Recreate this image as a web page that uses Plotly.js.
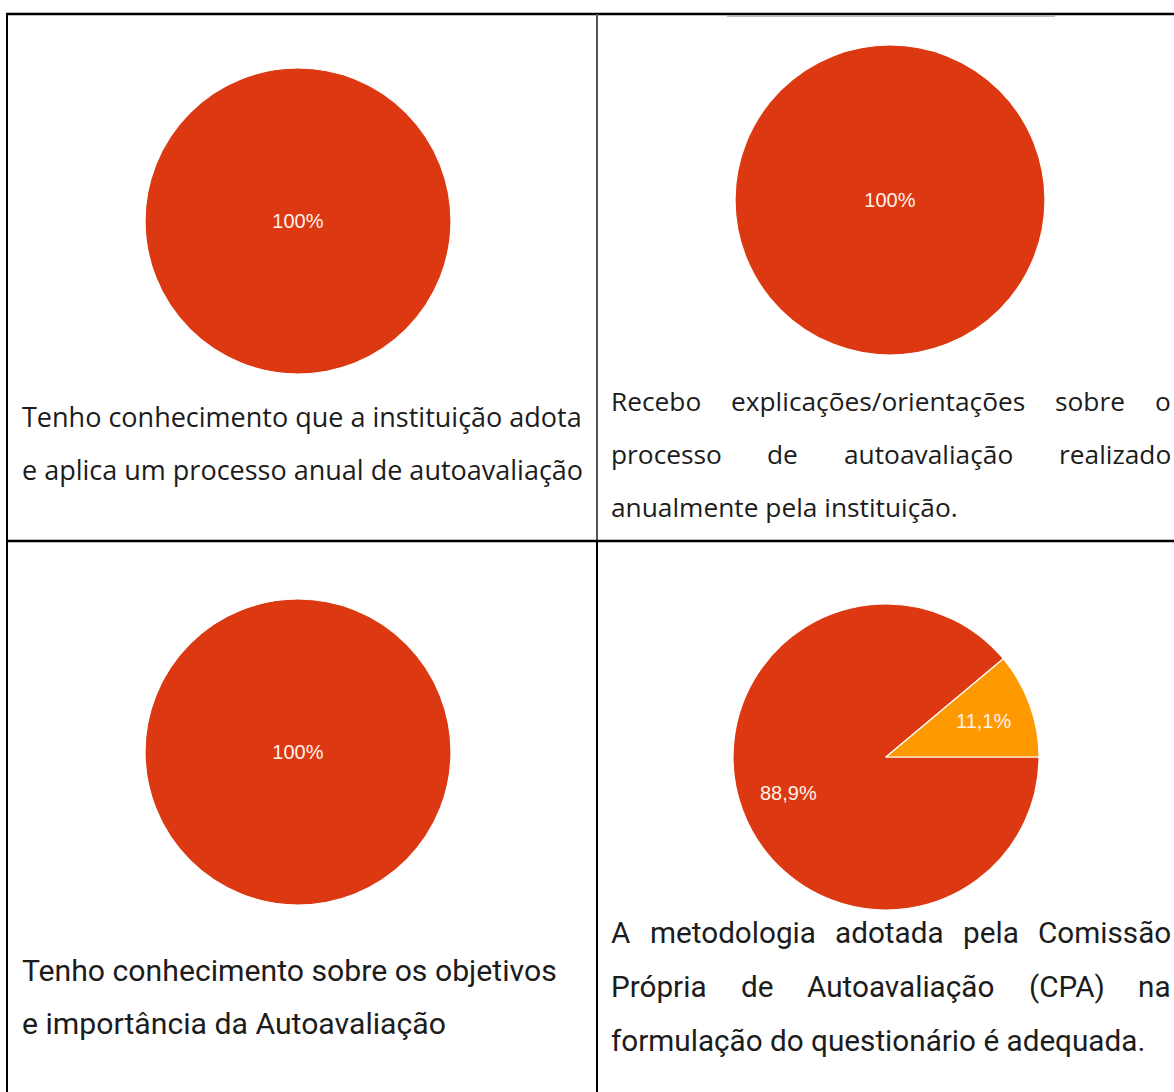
<!DOCTYPE html>
<html><head><meta charset="utf-8">
<script src="https://cdn.plot.ly/plotly-3.0.1.min.js"></script>
<style>html,body{margin:0;padding:0;background:#fff;overflow:hidden}</style>
</head><body>
<div id="chart" style="width:1174px;height:1092px"></div>
<script>
// ---- data ----
const pieLabels1 = ['Sim'];
const pieValues1 = [100];
const pieLabels2 = ['Sim'];
const pieValues2 = [100];
const pieLabels3 = ['Sim'];
const pieValues3 = [100];
const pieLabels4 = ['Sim', 'Não'];
const pieValues4 = [88.9, 11.1];
const sliceColors = ['#DC3912', '#FF9900'];

const captionTL = ['Tenho conhecimento que a instituição adota', 'e aplica um processo anual de autoavaliação'];
const captionTR = ['Recebo explicações/orientações sobre o', 'processo de autoavaliação realizado', 'anualmente pela instituição.'];
const captionBL = ['Tenho conhecimento sobre os objetivos', 'e importância da Autoavaliação'];
const captionBR = ['A metodologia adotada pela Comissão', 'Própria de Autoavaliação (CPA) na', 'formulação do questionário é adequada.'];

// ---- layout helpers ----
const W = 1174, H = 1092;
const fx = p => p / W;
const fy = p => 1 - p / H;
function dom(cx, cy, r) { return { x: [fx(cx - r), fx(cx + r)], y: [fy(cy + r), fy(cy - r)] }; }

const pieFont = { family: 'Liberation Sans, Arial, sans-serif', size: 20, color: '#fdf3ea' };
function pie(labels, values, d, extra) {
  return Object.assign({
    type: 'pie', labels, values, domain: d, sort: false, direction: 'clockwise',
    marker: { colors: sliceColors, line: { color: '#ffffff', width: 1.2 } },
    textinfo: 'percent', textposition: 'inside', insidetextorientation: 'horizontal',
    insidetextfont: pieFont, hoverinfo: 'none', showlegend: false
  }, extra || {});
}

const p4 = { cx: 886, cy: 757, r: 153, rot: 90 };
const data = [
  pie(pieLabels1, pieValues1, dom(298, 221, 153)),
  pie(pieLabels2, pieValues2, dom(890, 200, 155)),
  pie(pieLabels3, pieValues3, dom(298, 752, 153)),
  pie(pieLabels4, pieValues4, dom(p4.cx, p4.cy, p4.r), { rotation: p4.rot, textinfo: 'none' })
];

const annotations = [];

// slice labels for pie 4 placed at each slice's mid-angle (computed from the values)
(function () {
  const total = pieValues4.reduce((a, b) => a + b, 0);
  let start = p4.rot;
  pieValues4.forEach(v => {
    const sweep = v / total * 360;
    const mid = (start + sweep / 2) * Math.PI / 180;
    const rr = p4.r * 0.68;
    const x = p4.cx + rr * Math.sin(mid), y = p4.cy - rr * Math.cos(mid);
    const pct = (v / total * 100).toFixed(1).replace(/\.0$/, '').replace('.', ',') + '%';
    annotations.push({ xref: 'paper', yref: 'paper', x: fx(x), y: fy(y), xanchor: 'center', yanchor: 'middle',
      text: pct, showarrow: false, font: pieFont });
    start += sweep;
  });
})();

// text measurement for justified lines
const cv = document.createElement('canvas').getContext('2d');
function measure(t, fam, size) { cv.font = size + 'px ' + fam; return cv.measureText(t).width; }

function addLine(text, x, y, font) {
  annotations.push({ xref: 'paper', yref: 'paper', x: fx(x), y: fy(y), xanchor: 'left', yanchor: 'middle',
    text: text, showarrow: false, font: font, borderpad: 0 });
}
function addJustified(text, left, right, y, font, famMeasure) {
  const words = text.split(' ');
  const widths = words.map(w => measure(w, famMeasure, font.size));
  const total = widths.reduce((a, b) => a + b, 0);
  const gap = (right - left - total) / (words.length - 1);
  let x = left;
  words.forEach((w, i) => { addLine(w, x, y, font); x += widths[i] + gap; });
}
function addCaption(lines, left, right, y0, step, font, fam, justify) {
  lines.forEach((ln, i) => {
    const y = y0 + i * step;
    if (justify && i < lines.length - 1) addJustified(ln, left, right, y, font, fam);
    else addLine(ln, left, y, font);
  });
}

const fontTL = { family: 'Open Sans, sans-serif', size: 27, color: '#1c1c1c' };
const fontTR = { family: 'Open Sans, sans-serif', size: 26.3, color: '#1c1c1c' };
const fontBL = { family: 'Roboto, sans-serif', size: 30.2, color: '#1c1c1c' };
const fontBR = { family: 'Roboto, sans-serif', size: 29.7, color: '#1c1c1c' };
addCaption(captionTL, 21, 582, 416, 53, fontTL, '"Open Sans"', false);
addCaption(captionTR, 610, 1170, 401, 53, fontTR, '"Open Sans"', true);
addCaption(captionBL, 21, 558, 970, 53, fontBL, 'Roboto', false);
addCaption(captionBR, 610, 1170, 932, 54, fontBR, 'Roboto', true);

function line(x0, y0, x1, y1, color, width) {
  return { type: 'line', xref: 'paper', yref: 'paper', x0: fx(x0), y0: fy(y0), x1: fx(x1), y1: fy(y1),
    line: { color: color, width: width } };
}
const shapes = [
  line(6, 14, 1174, 14, '#000000', 2.5),
  line(7, 14, 7, 1092, '#000000', 2),
  line(597, 14, 597, 541, '#555555', 2),
  line(597, 541, 597, 1092, '#000000', 2),
  line(6, 541, 1174, 541, '#000000', 2.5),
  line(727, 16, 1055, 16, '#aaaaaa', 1.5)
];

const layout = {
  width: W, height: H, margin: { l: 0, r: 0, t: 0, b: 0 },
  paper_bgcolor: '#ffffff', plot_bgcolor: '#ffffff',
  separators: ',.', showlegend: false,
  xaxis: { visible: false }, yaxis: { visible: false },
  shapes: shapes, annotations: annotations
};
Plotly.newPlot('chart', data, layout, { staticPlot: true, displayModeBar: false });
</script>
</body></html>
